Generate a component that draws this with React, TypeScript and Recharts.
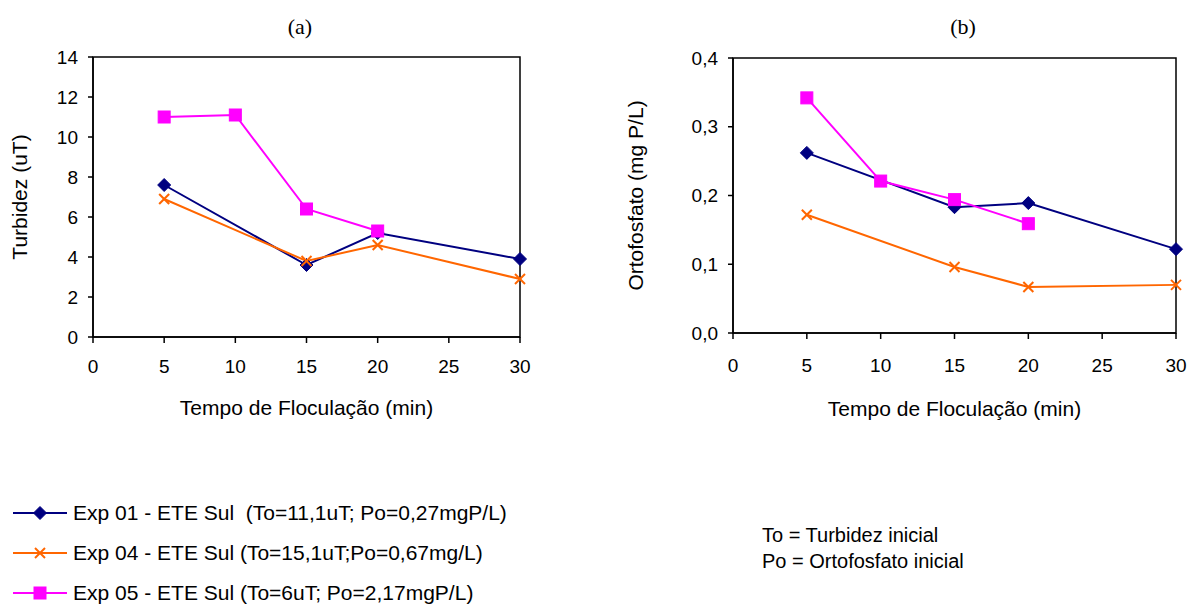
import { LineChart, Line, XAxis, YAxis, ReferenceArea } from 'recharts'

const minutes = [5, 10, 15, 20, 30]
const xTicks = [0, 5, 10, 15, 20, 25, 30]

const turbExp01 = [7.6, null, 3.6, 5.2, 3.9]
const turbExp04 = [6.9, null, 3.8, 4.6, 2.9]
const turbExp05 = [11.0, 11.1, 6.4, 5.3, null]
const turbTicks = [0, 2, 4, 6, 8, 10, 12, 14]

const ortoExp01 = [0.262, null, 0.183, 0.189, 0.122]
const ortoExp04 = [0.172, null, 0.096, 0.067, 0.07]
const ortoExp05 = [0.342, 0.221, 0.194, 0.159, null]
const ortoTicks = [0, 0.1, 0.2, 0.3, 0.4]

const legendLabels = [
  'Exp 01 - ETE Sul  (To=11,1uT; Po=0,27mgP/L)',
  'Exp 04 - ETE Sul (To=15,1uT;Po=0,67mg/L)',
  'Exp 05 - ETE Sul (To=6uT; Po=2,17mgP/L)',
]
const notes = ['To = Turbidez inicial', 'Po = Ortofosfato inicial']

const NAVY = '#000080'
const ORANGE = '#FF6600'
const MAGENTA = '#FF00FF'
const FONT = '"Liberation Sans", Arial, sans-serif'
const SERIF = '"Liberation Serif", "Times New Roman", serif'

const turbData = minutes.map((m, i) => ({ t: m, e01: turbExp01[i], e04: turbExp04[i], e05: turbExp05[i] }))
const ortoData = minutes.map((m, i) => ({ t: m, e01: ortoExp01[i], e04: ortoExp04[i], e05: ortoExp05[i] }))

function Diamond({ cx, cy }: { cx: number; cy: number }) {
  return <polygon points={`${cx},${cy - 6.5} ${cx + 6.5},${cy} ${cx},${cy + 6.5} ${cx - 6.5},${cy}`} fill={NAVY} stroke={NAVY} />
}
function Square({ cx, cy }: { cx: number; cy: number }) {
  return <rect x={cx - 6} y={cy - 6} width={12} height={12} fill={MAGENTA} stroke={MAGENTA} />
}
function Cross({ cx, cy }: { cx: number; cy: number }) {
  return (
    <g stroke={ORANGE} strokeWidth={2}>
      <line x1={cx - 5} y1={cy - 5} x2={cx + 5} y2={cy + 5} />
      <line x1={cx - 5} y1={cy + 5} x2={cx + 5} y2={cy - 5} />
    </g>
  )
}

const makeDot = (Shape: typeof Diamond) => (props: any) => {
  const { cx, cy, index, value } = props
  if (cx == null || cy == null || value == null || Number.isNaN(cy)) return <g key={`n-${index}`} />
  return (
    <g key={`d-${index}`}>
      <Shape cx={cx} cy={cy} />
    </g>
  )
}

const tickStyle = { fill: '#000', fontSize: 19, fontFamily: FONT }
const labelStyle = { fill: '#000', fontSize: 21, fontFamily: FONT, textAnchor: 'middle' as const }

interface PanelProps {
  data: typeof turbData
  ticks: number[]
  yLabel: string
  yWidth: number
  yLabelOffset: number
  width: number
  top: number
  bottom: number
  right: number
  xTickMargin: number
  xLabelOffset: number
  fmt?: (v: number) => string
}

function Panel({ data, ticks, yLabel, yWidth, yLabelOffset, width, top, bottom, right, xTickMargin, xLabelOffset, fmt }: PanelProps) {
  const yMax = ticks[ticks.length - 1]
  return (
    <LineChart width={width} height={430} data={data} margin={{ top, right, left: 0, bottom: 430 - bottom - 80 }}>
      <ReferenceArea x1={0} x2={30} y1={0} y2={yMax} fill="none" stroke="#000" strokeWidth={1.5} />
      <XAxis
        dataKey="t"
        type="number"
        domain={[0, 30]}
        ticks={xTicks}
        height={80}
        tick={tickStyle}
        tickSize={6}
        tickMargin={xTickMargin}
        axisLine={{ stroke: '#000', strokeWidth: 1.5 }}
        tickLine={{ stroke: '#000', strokeWidth: 1.5 }}
        label={{ value: 'Tempo de Floculação (min)', position: 'insideBottom', offset: xLabelOffset, style: labelStyle }}
      />
      <YAxis
        type="number"
        domain={[0, yMax]}
        ticks={ticks}
        width={yWidth}
        tick={tickStyle}
        tickSize={5}
        tickMargin={10}
        tickFormatter={fmt}
        axisLine={{ stroke: '#000', strokeWidth: 1.5 }}
        tickLine={{ stroke: '#000', strokeWidth: 1.5 }}
        label={{ value: yLabel, angle: -90, position: 'insideLeft', offset: yLabelOffset, style: labelStyle }}
      />
      <Line dataKey="e01" stroke={NAVY} strokeWidth={2} connectNulls dot={makeDot(Diamond)} isAnimationActive={false} />
      <Line dataKey="e04" stroke={ORANGE} strokeWidth={2} connectNulls dot={makeDot(Cross)} isAnimationActive={false} />
      <Line dataKey="e05" stroke={MAGENTA} strokeWidth={2} connectNulls dot={makeDot(Square)} isAnimationActive={false} />
    </LineChart>
  )
}

const legendShapes = [Diamond, Cross, Square]
const legendColors = [NAVY, ORANGE, MAGENTA]

export default function App() {
  return (
    <div style={{ position: 'absolute', left: 0, top: 0, width: 1187, height: 607, background: '#fff', fontFamily: FONT, overflow: 'hidden' }}>
      <div style={{ position: 'absolute', left: 0, top: 0 }}>
        <Panel data={turbData} ticks={turbTicks} yLabel="Turbidez (uT)" yWidth={93} yLabelOffset={20} width={560} top={57} bottom={337} right={40} xTickMargin={17} xLabelOffset={2} />
      </div>
      <div style={{ position: 'absolute', left: 620, top: 0 }}>
        <Panel
          data={ortoData}
          ticks={ortoTicks}
          yLabel="Ortofosfato (mg P/L)"
          yWidth={113}
          yLabelOffset={16}
          width={567}
          top={58}
          bottom={333}
          right={11}
          xTickMargin={20}
          xLabelOffset={-3}
          fmt={(v) => v.toFixed(1).replace('.', ',')}
        />
      </div>
      <div style={{ position: 'absolute', left: 260, top: 14, width: 80, textAlign: 'center', fontFamily: SERIF, fontSize: 22 }}>(a)</div>
      <div style={{ position: 'absolute', left: 923, top: 14, width: 80, textAlign: 'center', fontFamily: SERIF, fontSize: 22 }}>(b)</div>
      {legendLabels.map((txt, i) => {
        const Shape = legendShapes[i]
        return (
          <div key={txt} style={{ position: 'absolute', left: 12, top: 500 + i * 40, height: 26, display: 'flex', alignItems: 'center' }}>
            <svg width={56} height={26}>
              <line x1={1} y1={13} x2={55} y2={13} stroke={legendColors[i]} strokeWidth={2} />
              <Shape cx={28} cy={13} />
            </svg>
            <span style={{ marginLeft: 5, fontSize: 21, whiteSpace: 'pre', color: '#000' }}>{txt}</span>
          </div>
        )
      })}
      {notes.map((n, i) => (
        <div key={n} style={{ position: 'absolute', left: 762, top: 524 + i * 26, fontSize: 20, color: '#000', whiteSpace: 'pre' }}>{n}</div>
      ))}
    </div>
  )
}
